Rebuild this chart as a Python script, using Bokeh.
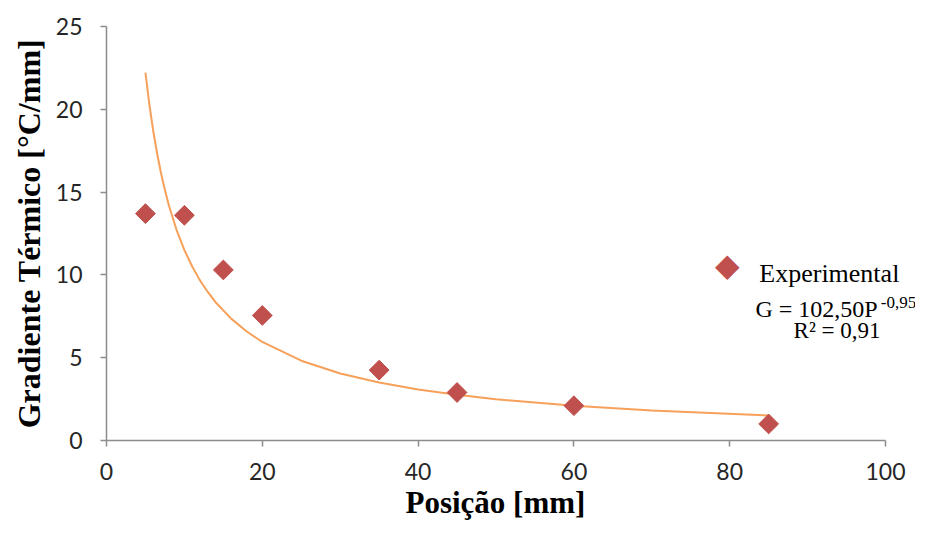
from bokeh.plotting import figure
from bokeh.models import Range1d, FixedTicker, Label, Title
from bokeh.embed import file_html
from bokeh.resources import INLINE
import math

# Experimental data
pos = [5, 10, 15, 20, 35, 45, 60, 85]
grad = [13.7, 13.6, 10.3, 7.55, 4.25, 2.9, 2.1, 1.0]

# Trend line (power fit) values
fit_pos = [5, 5.5, 6, 6.5, 7, 7.5, 8, 9, 10, 11, 12, 13, 14, 16, 18, 20, 25, 30, 35, 40, 45, 50, 60, 70, 85]
fit_grad = [22.22, 20.29, 18.69, 17.33, 16.14, 15.12, 14.21, 12.71, 11.50, 10.51, 9.67, 8.97, 8.35,
            7.36, 6.58, 5.95, 4.82, 4.05, 3.50, 3.08, 2.76, 2.49, 2.10, 1.81, 1.51]

x_ticks = [0, 20, 40, 60, 80, 100]
y_ticks = [0, 5, 10, 15, 20, 25]

# frame extends to the right edge so the equation text is not clipped;
# the x axis line itself stops at 100
X_END = 100 * 809 / 779

p = figure(width=915, height=522, x_range=Range1d(0, X_END), y_range=Range1d(0, 25),
           output_backend="svg", toolbar_location=None,
           min_border_left=106, min_border_right=0, min_border_top=26, min_border_bottom=82)
p.grid.visible = False
p.outline_line_color = None
p.background_fill_color = "white"
p.border_fill_color = "white"

line = p.line(fit_pos, fit_grad, line_color="#F7A05A", line_width=2)
pts = p.scatter(pos, grad, marker="square", angle=math.pi / 4, size=14,
                fill_color="#C0504D", line_color="#C0504D")

for ax in (p.xaxis[0], p.yaxis[0]):
    ax.axis_line_color = "#8C8C8C"
    ax.axis_line_width = 1.5
    ax.major_tick_line_color = "#8C8C8C"
    ax.major_tick_line_width = 1.5
    ax.major_tick_out = 6
    ax.major_tick_in = 0
    ax.minor_tick_line_color = None
    ax.major_label_text_font = "Lato"
    ax.major_label_text_font_size = "23px"
    ax.major_label_text_color = "#262626"
    ax.axis_label_text_font = "Liberation Serif"
    ax.axis_label_text_font_style = "bold"
    ax.axis_label_text_color = "#000000"

p.xaxis.bounds = (0, 100)
p.yaxis.axis_label_text_font_size = "32px"
p.xaxis.ticker = FixedTicker(ticks=x_ticks)
p.yaxis.ticker = FixedTicker(ticks=y_ticks)
p.yaxis.axis_label = "Gradiente Térmico [°C/mm]"
p.xaxis.major_label_standoff = 16
p.yaxis.major_label_standoff = 18
p.yaxis.axis_label_standoff = 6

# x axis title, centred under the 0-100 axis
p.add_layout(Title(text="Posição [mm]", align="left", offset=299, standoff=0,
                   text_font="Liberation Serif", text_font_style="bold",
                   text_font_size="31px", text_color="#000000"), "below")

# Legend: marker symbol + label
p.add_layout(Label(x=79.7, y=10.57, text="◆", text_font="DejaVu Sans",
                   text_font_size="32px", text_color="#C0504D",
                   text_align="center", text_baseline="middle"))
p.add_layout(Label(x=83.8, y=10.08, text="Experimental", text_font="Liberation Serif",
                   text_font_size="26px", text_color="#000000", text_baseline="alphabetic"))

p.add_layout(Label(x=83.3, y=7.97, text="G = 102,50P", text_font="Liberation Serif",
                   text_font_size="24px", text_color="#000000", text_baseline="alphabetic"))
p.add_layout(Label(x=99.4, y=8.33, text="-0,95", text_font="Liberation Serif",
                   text_font_size="17px", text_color="#000000", text_baseline="alphabetic"))
p.add_layout(Label(x=88.2, y=6.64, text="R² = 0,91", text_font="Liberation Serif",
                   text_font_size="23px", text_color="#000000", text_baseline="alphabetic"))

open("out.html", "w").write(file_html(p, INLINE))
